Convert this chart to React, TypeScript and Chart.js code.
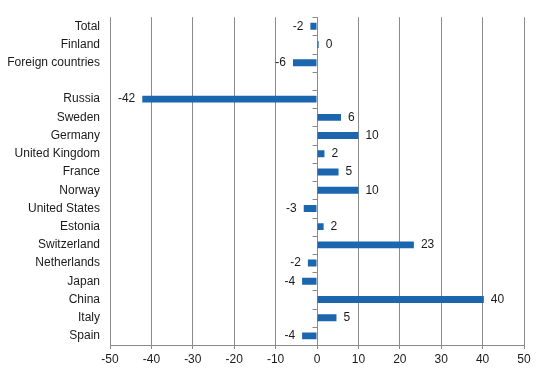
import React, { useEffect, useRef } from "react";
import { Chart, registerables } from "chart.js";

Chart.register(...registerables);

const categories: string[] = [
  "Total",
  "Finland",
  "Foreign countries",
  "",
  "Russia",
  "Sweden",
  "Germany",
  "United Kingdom",
  "France",
  "Norway",
  "United States",
  "Estonia",
  "Switzerland",
  "Netherlands",
  "Japan",
  "China",
  "Italy",
  "Spain",
];

const values: (number | null)[] = [
  -1.6, 0.4, -5.8, null, -42.2, 5.8, 10, 1.8, 5.2, 10, -3.2, 1.6, 23.4, -2.2, -3.6, 40.3, 4.7, -3.6,
];

const xTicks: number[] = [-50, -40, -30, -20, -10, 0, 10, 20, 30, 40, 50];

const FONT = "'Liberation Sans', Arial, sans-serif";
const BAR = "#1c66b0";
const GRID = "#8a8a8a";
const TEXT = "#1a1a1a";

const labelPlugin = {
  id: "valueLabels",
  afterDatasetsDraw(chart: any) {
    const ctx = chart.ctx;
    const meta = chart.getDatasetMeta(0);
    ctx.save();
    ctx.font = `12px ${FONT}`;
    ctx.fillStyle = TEXT;
    ctx.textBaseline = "middle";
    meta.data.forEach((el: any, i: number) => {
      const v = values[i];
      if (v === null || v === undefined) return;
      const txt = String(Math.round(v));
      if (v >= 0) {
        ctx.textAlign = "left";
        ctx.fillText(txt, el.x + 7, el.y);
      } else {
        ctx.textAlign = "right";
        ctx.fillText(txt, el.x - 7, el.y);
      }
    });
    ctx.restore();
  },
};

// small tick marks on the zero line at category boundaries
const zeroTicksPlugin = {
  id: "zeroTicks",
  beforeDatasetsDraw(chart: any) {
    const ctx = chart.ctx;
    const xs = chart.scales.x;
    const ys = chart.scales.y;
    const x0 = Math.round(xs.getPixelForValue(0)) + 0.5;
    ctx.save();
    ctx.strokeStyle = GRID;
    ctx.lineWidth = 1;
    ctx.beginPath();
    for (let i = 0; i <= categories.length; i++) {
      const y = Math.round(ys.getPixelForValue(i - 0.5)) + 0.5;
      ctx.moveTo(x0 - 5, y);
      ctx.lineTo(x0, y);
    }
    ctx.stroke();
    ctx.restore();
  },
};

export default function App() {
  const ref = useRef<HTMLCanvasElement | null>(null);
  useEffect(() => {
    if (!ref.current) return;
    const chart = new Chart(ref.current, {
      type: "bar",
      data: {
        labels: categories,
        datasets: [
          {
            data: values as any,
            backgroundColor: BAR,
            borderWidth: 0,
            barPercentage: 0.38,
            categoryPercentage: 1,
          },
        ],
      },
      options: {
        indexAxis: "y",
        animation: false,
        responsive: false,
        maintainAspectRatio: false,
        layout: { padding: { left: 0, right: 20, top: 5.8, bottom: 0 } },
        plugins: {
          legend: { display: false },
          tooltip: { enabled: false },
        },
        scales: {
          x: {
            type: "linear",
            min: -50,
            max: 50,
            afterBuildTicks: (scale: any) => {
              scale.ticks = xTicks.map((v) => ({ value: v }));
            },
            afterFit: (scale: any) => {
              scale.height = 29;
            },
            grid: {
              color: GRID,
              lineWidth: 1,
              drawTicks: true,
              tickLength: 4,
            },
            border: { display: true, color: GRID, width: 1 },
            ticks: {
              font: { size: 12, family: FONT },
              color: TEXT,
              padding: 3,
              maxRotation: 0,
            },
          },
          y: {
            type: "category",
            position: "left",
            afterFit: (scale: any) => {
              scale.width = 110;
            },
            grid: { display: false, drawTicks: false },
            border: { display: false },
            ticks: {
              font: { size: 12, family: FONT },
              color: TEXT,
              padding: 10,
              autoSkip: false,
            },
          },
        },
      },
      plugins: [zeroTicksPlugin, labelPlugin],
    });
    return () => chart.destroy();
  }, []);
  return (
    <div style={{ position: "fixed", left: 0, top: 0, width: 544, height: 374, background: "#fff" }}>
      <canvas ref={ref} width={544} height={374} style={{ display: "block" }} />
    </div>
  );
}
